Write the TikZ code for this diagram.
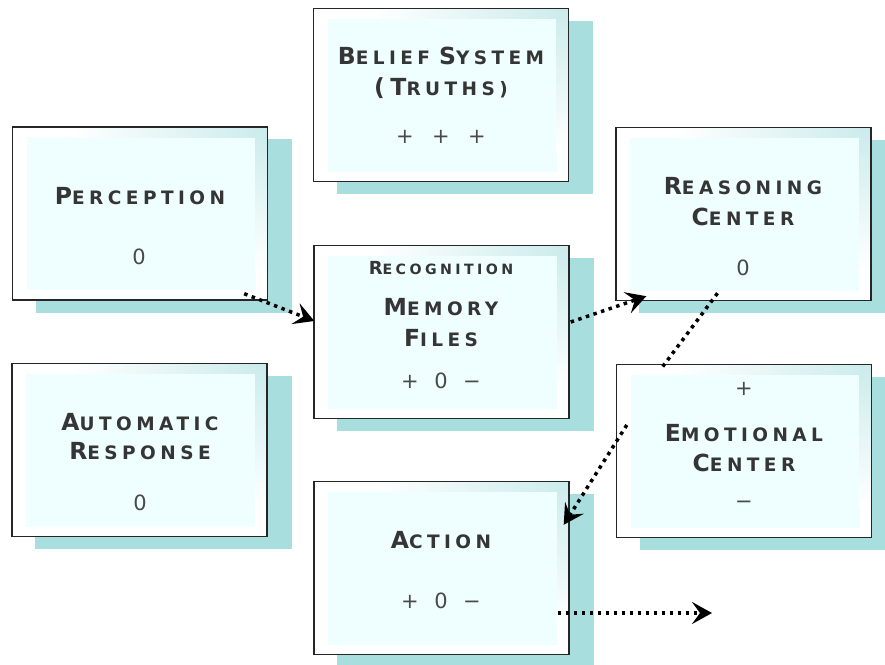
\documentclass[tikz,border=0pt]{standalone}
\usepackage{fontspec}
\setmainfont{DejaVu Sans}
\newfontfamily\headfont[LetterSpace=24]{DejaVu Sans}
\usetikzlibrary{arrows.meta,calc,backgrounds}

\definecolor{shadowc}{HTML}{A9DEDF}
\definecolor{innerc}{HTML}{EFFFFF}
\definecolor{inkc}{HTML}{353535}

% faked small caps: large initial, smaller capitals after it
\newcommand\capsc[2]{{\fontsize{23.5}{23.5}\selectfont #1}{\fontsize{18.5}{18.5}\selectfont\MakeUppercase{#2}}}
\newcommand\tinysc[2]{{\fontsize{18}{18}\selectfont #1}{\fontsize{14.2}{14.2}\selectfont\MakeUppercase{#2}}}
% evenly spaced value glyphs
\newcommand\vals[4]{\makebox[#1]{#2}\makebox[#1]{#3}\makebox[#1]{#4}}

\tikzset{
  x=1pt, y=-1pt,
  card/.style={draw=black!85, line width=1.4pt, fill=white, rectangle,
    minimum width=255pt, minimum height=173pt, inner sep=0pt,
    path picture={
      \fill[innerc] ($(path picture bounding box.north west)+(14,10)$)
        rectangle ($(path picture bounding box.south east)+(-12,-10)$);
      \shade[left color=white, right color=shadowc!60]
        ($(path picture bounding box.north west)+(60,0)$)
        rectangle ($(path picture bounding box.north east)+(0,10)$);
      \shade[top color=shadowc!60, bottom color=white]
        ($(path picture bounding box.north east)+(-12,0)$)
        rectangle ($(path picture bounding box.south east)+(0,-30)$);
    }},
  head/.style={text=inkc, font=\headfont\bfseries, align=center, inner sep=0pt},
  val/.style={text=inkc!90, font=\fontsize{21}{21}\selectfont, inner sep=0pt},
  flow/.style={line width=3.5pt, dash pattern=on 3.5pt off 4.5pt,
    -{Stealth[length=20pt, width=22pt, inset=8pt]}},
  link/.style={line width=3.5pt, dash pattern=on 3.5pt off 4.5pt},
}

\newcommand\cardbox[2]{%
  \node[card] (#1) at (#2) {};
  \begin{pgfonlayer}{background}
    \fill[shadowc] ($(#1.north west)+(24,13)$) rectangle ($(#1.south east)+(24,12)$);
  \end{pgfonlayer}}

\begin{document}
\begin{tikzpicture}
\useasboundingbox (0,0) rectangle (885,664);

% boxes
\cardbox{belief}{441,95}
\cardbox{perc}{140,213.5}
\cardbox{reas}{743.5,214}
\cardbox{mem}{441.5,332}
\cardbox{auto}{139.5,450}
\cardbox{emo}{744,451}
\cardbox{act}{441.5,568}

% texts
\node[head] (tb1) at (441,56) {\capsc{B}{elief}\hspace{9pt}\capsc{S}{ystem}};
\node[head] (tb2) at (441,88) {\capsc{(T}{ruths)}};
\node[val]  (tb3) at (441,137) {\vals{36pt}{+}{+}{+}};

\node[head] (tp1) at (140,196) {\capsc{P}{erception}};
\node[val]  (tp2) at (139,257) {0};

\node[head] (tr1) at (743,186) {\capsc{R}{easoning}};
\node[head] (tr2) at (743,217) {\capsc{C}{enter}};
\node[val]  (tr3) at (743,268) {0};

\node[head] (tm0) at (441,268) {\tinysc{R}{ecognition}};
\node[head] (tm1) at (441,307) {\capsc{M}{emory}};
\node[head] (tm2) at (441,338) {\capsc{F}{iles}};
\node[val]  (tm3) at (441,381) {\vals{31pt}{+}{0}{−}};

\node[head] (ta1) at (140,422) {\capsc{A}{utomatic}};
\node[head] (ta2) at (140,451) {\capsc{R}{esponse}};
\node[val]  (ta3) at (140,503) {0};

\node[val]  (te0) at (744,389) {+};
\node[head] (te1) at (744,433) {\capsc{E}{motional}};
\node[head] (te2) at (744,463) {\capsc{C}{enter}};
\node[val]  (te3) at (744,505) {−};

\node[head] (tc1) at (441,540) {\capsc{A}{ction}};
\node[val]  (tc2) at (441,601) {\vals{31pt}{+}{0}{−}};

% connectors
\coordinate (out) at (712,613);
\draw[flow] ($(perc.south east)+(-24,-7)$) -- ($(mem.west)+(1,-11)$);
\draw[flow] ($(mem.east)+(1,-10)$) -- ($(reas.south west)+(31,-5)$);
\draw[link] ($(reas.south)+(-26,-8)$) -- ($(emo.north west)+(46,4)$);
\draw[flow] ($(emo.west)+(11,-26)$) -- ($(act.north east)+(-6,44)$);
\draw[flow] ($(act.east)+(-12,45)$) -- (out);
\end{tikzpicture}
\end{document}
